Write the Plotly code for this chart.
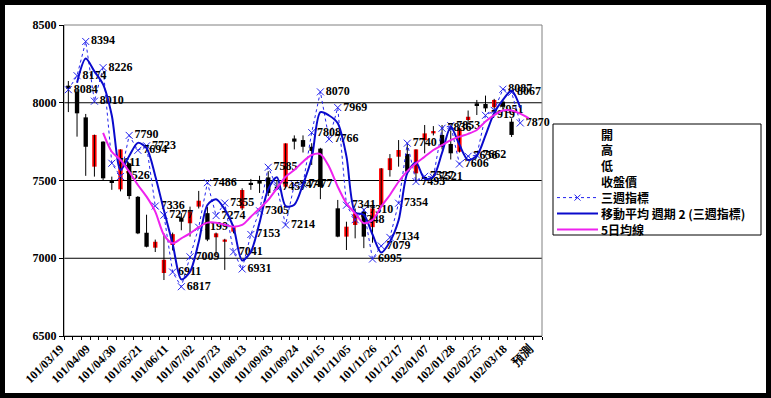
import plotly.graph_objects as go

dates = ["101/03/19", "101/03/26", "101/04/02", "101/04/09", "101/04/16", "101/04/23", "101/04/30",
         "101/05/07", "101/05/14", "101/05/21", "101/05/28", "101/06/04", "101/06/11", "101/06/18",
         "101/06/25", "101/07/02", "101/07/09", "101/07/16", "101/07/23", "101/07/30", "101/08/06",
         "101/08/13", "101/08/20", "101/08/27", "101/09/03", "101/09/10", "101/09/17", "101/09/24",
         "101/10/01", "101/10/08", "101/10/15", "101/10/22", "101/10/29", "101/11/05", "101/11/12",
         "101/11/19", "101/11/26", "101/12/03", "101/12/10", "101/12/17", "101/12/24", "101/12/31",
         "102/01/07", "102/01/14", "102/01/21", "102/01/28", "102/02/04", "102/02/18", "102/02/25",
         "102/03/04", "102/03/11", "102/03/18", "102/03/25", "102/04/01", "預測"]

opens = [8110, 8071, 7906, 7589, 7750, 7500, 7443, 7610, 7395, 7164, 7068, 6905, 7085, 7260,
         7225, 7332, 7290, 7135, 7106, 7171, 7321, 7485, 7500, 7520, 7460, 7460, 7770, 7760,
         7717, 7705, None, 7321, 7139, 7214, 7300, 7200, 7340, 7567, 7653, 7670, 7546, 7760,
         7803, 7793, 7735, 7685, 7889, 7996, 7992, 7971, 8007, 7878, None, None, None]
highs = [8140, 8093, 7928, 7795, 7752, 7525, 7700, 7612, 7400, 7280, 7120, 7160, 7165, 7290,
         7332, 7433, 7330, 7165, 7125, 7215, 7450, 7510, 7530, 7560, 7500, 7739, 7790, 7790,
         7740, 7710, None, 7375, 7235, 7320, 7320, 7330, 7580, 7670, 7760, 7740, 7700, 7857,
         7850, 7857, 7820, 7840, 7950, 8018, 8046, 8025, 8020, 7900, None, None, None]
lows = [7940, 7782, 7530, 7525, 7503, 7440, 7430, 7380, 7155, 7070, 7040, 6860, 7050, 7180,
        7139, 7320, 7110, 7020, 6925, 7160, 7310, 7440, 7420, 7400, 7440, 7450, 7700, 7680,
        7600, 7380, None, 7135, 7053, 7128, 7065, 7100, 7330, 7525, 7589, 7540, 7490, 7675,
        7790, 7700, 7635, 7680, 7860, 7921, 7942, 7960, 7960, 7780, None, None, None]
closes = [8090, 7932, 7717, 7793, 7514, 7490, 7700, 7400, 7160, 7074, 7106, 6990, 7155, 7235,
          7300, 7370, 7120, 7160, 7120, 7200, 7439, 7475, 7480, 7420, 7450, 7739, 7750, 7717,
          7690, 7460, None, 7139, 7203, 7289, 7139, 7320, 7578, 7643, 7696, 7557, 7700, 7803,
          7818, 7717, 7675, 7836, 7910, 7985, 7964, 8018, 7975, 7793, None, None, None]

three_week = [8084, 8174, 8394, 8010, 8226, 7611, 7526, 7790, 7694, 7723, 7336, 7277, 6911, 6817,
              7009, 7199, 7486, 7274, 7355, 7041, 6931, 7153, 7305, 7585, 7457, 7214, 7474, 7477,
              7808, 8070, 7766, 7969, 7341, 7248, 7310, 6995, 7079, 7134, 7354, 7740, 7493, 7527,
              7521, 7836, 7853, 7606, 7656, 7662, 7919, 7951, 8087, 8067, 7870, None, None]

ma5 = [None, None, None, None, 7807, 7685, 7632, 7557, 7471, 7396, 7300, 7150, 7096, 7128,
       7160, 7200, 7229, 7229, 7215, 7203, 7214, 7267, 7320, 7375, 7450, 7524, 7567, 7621,
       7664, 7670, 7589, 7460, 7353, 7289, 7225, 7246, 7332, 7407, 7492, 7560, 7611, 7653,
       7696, 7728, 7760, 7782, 7800, 7825, 7880, 7921, 7950, 7950, 7930, 7900, None]

y_ticks = [6500, 7000, 7500, 8000, 8500]

legend_names = ["開", "高", "低", "收盤價", "三週指標", "移動平均 週期 2 (三週指標)", "5日均線"]

BLUE_DOT = "#2222EE"
BLUE = "#0A0ACC"
MAGENTA = "#EE22EE"

x = list(range(len(dates)))

# moving-average trendline (period 2) of the 三週指標 series
ma2 = [None]
for a, b in zip(three_week[:-1], three_week[1:]):
    ma2.append((a + b) / 2 if a is not None and b is not None else None)

# wicks
wx, wy = [], []
for i, (h, l) in enumerate(zip(highs, lows)):
    if h is None:
        continue
    wx += [i, i, None]
    wy += [l, h, None]

up_x, up_base, up_len, dn_x, dn_base, dn_len = [], [], [], [], [], []
for i, (o, c) in enumerate(zip(opens, closes)):
    if o is None:
        continue
    if c >= o:
        up_x.append(i); up_base.append(o); up_len.append(max(c - o, 6))
    else:
        dn_x.append(i); dn_base.append(c); dn_len.append(max(o - c, 6))

fig = go.Figure()

fig.add_trace(go.Scatter(x=wx, y=wy, mode="lines", line=dict(color="black", width=1),
                         showlegend=False, hoverinfo="skip"))
fig.add_trace(go.Bar(x=up_x, y=up_len, base=up_base, width=0.5,
                     marker=dict(color="#FF0000", line=dict(width=0)), showlegend=False))
fig.add_trace(go.Bar(x=dn_x, y=dn_len, base=dn_base, width=0.5,
                     marker=dict(color="#000000", line=dict(width=0)), showlegend=False))

fig.add_trace(go.Scatter(
    x=x, y=three_week, mode="lines+markers+text", name=legend_names[4],
    line=dict(color=BLUE_DOT, width=1, dash="dot"),
    marker=dict(symbol="x-thin", size=7, line=dict(width=1, color=BLUE_DOT), color=BLUE_DOT),
    text=[str(v) if v is not None else "" for v in three_week],
    textposition="middle right",
    textfont=dict(family="Liberation Serif", size=12, color="black", weight="bold"),
    cliponaxis=False,
    showlegend=False))

fig.add_trace(go.Scatter(x=x, y=ma2, mode="lines", name=legend_names[5],
                         line=dict(color=BLUE, width=2, shape="spline", smoothing=0.8),
                         showlegend=False))
fig.add_trace(go.Scatter(x=x, y=ma5, mode="lines", name=legend_names[6],
                         line=dict(color=MAGENTA, width=2, shape="spline", smoothing=0.8),
                         showlegend=False))

W, H, L, R, T, B = 771, 398, 64, 229, 25, 62
pw, ph = W - L - R, H - T - B


def px(xp):
    return (xp - L) / pw


def py(yp):
    return (H - B - yp) / ph


shapes = []
for v in y_ticks[1:-1]:
    shapes.append(dict(type="line", xref="paper", yref="y", x0=0, x1=1, y0=v, y1=v,
                       line=dict(color="black", width=1), layer="below"))
shapes.append(dict(type="rect", xref="paper", yref="paper", x0=0, x1=1, y0=0, y1=1,
                   line=dict(color="#808080", width=1), layer="below"))
# outer black frame
shapes.append(dict(type="rect", xref="paper", yref="paper",
                   x0=px(0), x1=px(W), y0=py(H), y1=py(0),
                   line=dict(color="black", width=10)))

# hand-drawn legend box
lg_left, lg_right, lg_top, lg_bottom = 553, 761, 124, 235
shapes.append(dict(type="rect", xref="paper", yref="paper",
                   x0=px(lg_left), x1=px(lg_right), y0=py(lg_bottom), y1=py(lg_top),
                   line=dict(color="black", width=1), fillcolor="white", layer="below"))
row_y = [134 + 15.9 * k for k in range(len(legend_names))]
sym_x0, sym_x1, text_x = 557, 598, 599
annotations = []
for name, ry in zip(legend_names, row_y):
    annotations.append(dict(xref="paper", yref="paper", x=px(text_x), y=py(ry), text=name,
                            showarrow=False, xanchor="left", yanchor="middle",
                            font=dict(family="Noto Sans CJK TC", size=12, color="black",
                                      weight="bold")))
# symbols
shapes.append(dict(type="line", xref="paper", yref="paper", x0=px(sym_x0), x1=px(sym_x1),
                   y0=py(row_y[4]), y1=py(row_y[4]), line=dict(color=BLUE_DOT, width=1, dash="dot")))
mx = (sym_x0 + sym_x1) / 2
for d in (1, -1):
    shapes.append(dict(type="line", xref="paper", yref="paper", x0=px(mx - 3), x1=px(mx + 3),
                       y0=py(row_y[4] - 3 * d), y1=py(row_y[4] + 3 * d),
                       line=dict(color=BLUE_DOT, width=1)))
shapes.append(dict(type="line", xref="paper", yref="paper", x0=px(sym_x0), x1=px(sym_x1),
                   y0=py(row_y[5]), y1=py(row_y[5]), line=dict(color=BLUE, width=2)))
shapes.append(dict(type="line", xref="paper", yref="paper", x0=px(sym_x0), x1=px(sym_x1),
                   y0=py(row_y[6]), y1=py(row_y[6]), line=dict(color=MAGENTA, width=2)))

fig.update_layout(
    width=W, height=H,
    margin=dict(l=L, r=R, t=T, b=B),
    paper_bgcolor="white", plot_bgcolor="white",
    barmode="overlay",
    showlegend=False,
    shapes=shapes,
    annotations=annotations,
    font=dict(family="Liberation Serif", color="black"),
)
fig.update_xaxes(range=[-0.5, len(dates) - 0.5], tickmode="array", tickvals=x[::3],
                 ticktext=dates[::3], tickangle=-45, ticks="", showgrid=False, zeroline=False,
                 showline=True, linecolor="black", linewidth=1, ticklabelshift=-8,
                 tickfont=dict(family="Liberation Serif", size=12, color="black", weight="bold"),
                 minor=dict(tickmode="linear", tick0=-0.5, dtick=1, ticks="outside", ticklen=3,
                            tickcolor="black", showgrid=False))
fig.update_yaxes(range=[6500, 8500], tickmode="array", tickvals=y_ticks, showgrid=False,
                 zeroline=False, showline=True, linecolor="black", linewidth=1,
                 ticks="outside", ticklen=4, tickcolor="black",
                 tickfont=dict(family="Liberation Serif", size=12, color="black", weight="bold"))

fig.write_html("out.html", config={"displayModeBar": False},
               post_script="document.body.style.margin='0px';document.body.style.padding='0px';")
